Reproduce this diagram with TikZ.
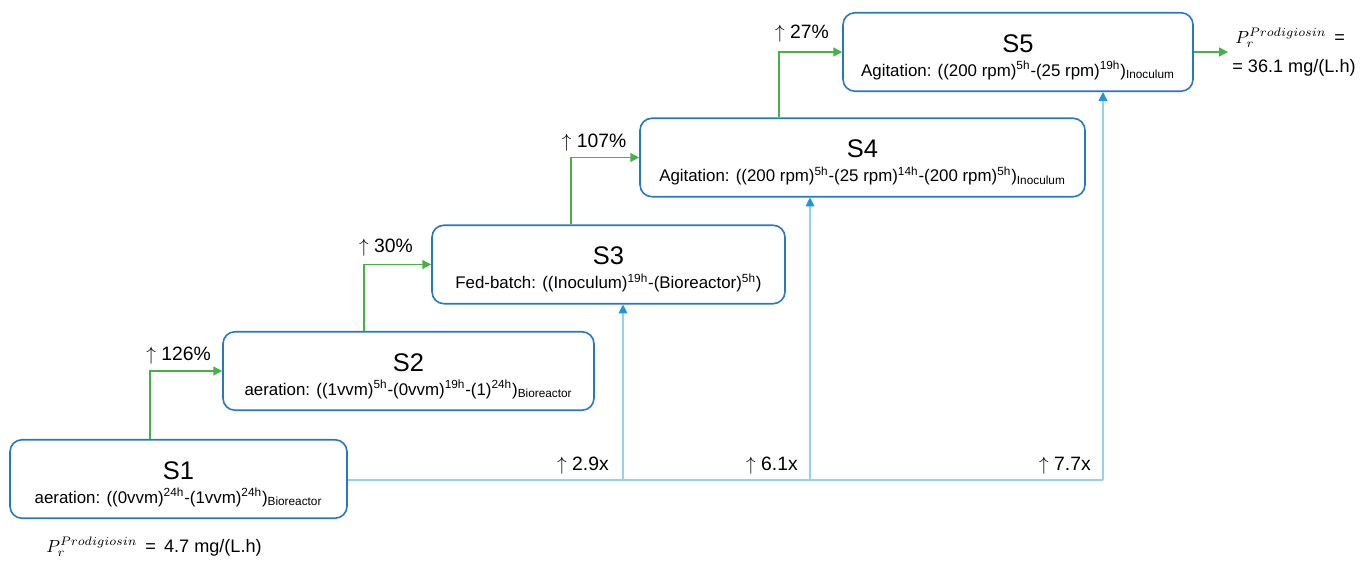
\documentclass[tikz,border=0pt]{standalone}
\usepackage{fontspec}
\setmainfont{Liberation Sans}
\usepackage{amsmath}
\usetikzlibrary{arrows.meta}

\definecolor{boxblue}{RGB}{40,118,200}
\definecolor{stepgreen}{RGB}{70,178,70}
\definecolor{lineblue}{RGB}{150,210,238}
\definecolor{tipblue}{RGB}{30,150,220}

\tikzset{
    stage/.style={draw=boxblue, line width=0.9pt, rounded corners=0.24cm, align=center,
                  minimum height=1.57cm, inner sep=2pt, font=\fontsize{14.5}{17}\selectfont},
    gain/.style={draw=stepgreen, line width=0.8pt, -{Triangle[width=5pt,length=5pt]}},
    yield/.style={draw=lineblue, line width=0.6pt},
    yieldup/.style={yield, -{Triangle[width=5pt,length=5pt,color=tipblue]}},
    lbl/.style={font=\fontsize{11}{13}\selectfont, inner sep=0pt},
    prod/.style={font=\fontsize{10.3}{13}\selectfont, inner sep=0pt}
}
\newcommand{\stagedesc}[1]{{\fontsize{9.6}{12}\selectfont #1}}

\begin{document}
\begin{tikzpicture}
    \useasboundingbox (0,0) rectangle (27.36,11.26);

    % stages
    \node[stage, minimum width=6.74cm] (s1) at (3.57,1.68)
        {\rule{0pt}{16pt}S1\\[-3.5pt]\stagedesc{aeration: ((0vvm)\textsuperscript{24h}-(1vvm)\textsuperscript{24h})\textsubscript{Bioreactor}}};
    \node[stage, minimum width=7.42cm] (s2) at (8.17,3.84)
        {\rule{0pt}{16pt}S2\\[-3.5pt]\stagedesc{aeration: ((1vvm)\textsuperscript{5h}-(0vvm)\textsuperscript{19h}-(1)\textsuperscript{24h})\textsubscript{Bioreactor}}};
    \node[stage, minimum width=7.06cm] (s3) at (12.17,5.97)
        {\rule{0pt}{16pt}S3\\[-3.5pt]\stagedesc{Fed-batch: ((Inoculum)\textsuperscript{19h}-(Bioreactor)\textsuperscript{5h})}};
    \node[stage, minimum width=8.9cm] (s4) at (17.25,8.11)
        {\rule{0pt}{16pt}S4\\[-3.5pt]\stagedesc{Agitation: ((200 rpm)\textsuperscript{5h}-(25 rpm)\textsuperscript{14h}-(200 rpm)\textsuperscript{5h})\textsubscript{Inoculum}}};
    \node[stage, minimum width=7.0cm] (s5) at (20.36,10.22)
        {\rule{0pt}{16pt}S5\\[-3.5pt]\stagedesc{Agitation: ((200 rpm)\textsuperscript{5h}-(25 rpm)\textsuperscript{19h})\textsubscript{Inoculum}}};

    % step-to-step gains
    \draw[gain] ([xshift=-0.57cm]s1.north) |- (s2.west);
    \draw[gain] ([xshift=-0.89cm]s2.north) |- (s3.west);
    \draw[gain] ([xshift=-0.75cm]s3.north) |- (s4.west);
    \draw[gain] ([xshift=-1.67cm]s4.north) |- (s5.west);
    \coordinate (out) at (24.56,10.22);
    \draw[gain] (s5.east) -- (out);

    \node[lbl] (g12) at (3.57,4.14) {$\uparrow$ 126\%};
    \node[lbl] (g23) at (7.72,6.30) {$\uparrow$ 30\%};
    \node[lbl] (g34) at (11.88,8.40) {$\uparrow$ 107\%};
    \node[lbl] (g45) at (16.04,10.58) {$\uparrow$ 27\%};

    % overall improvement against S1
    \coordinate (b3) at (12.46,1.66);
    \coordinate (b4) at (16.20,1.66);
    \coordinate (b5) at (22.06,1.66);
    \draw[yield] (s1.east |- b3) -- (b5);
    \draw[yieldup] (b3) -- (b3 |- s3.south);
    \draw[yieldup] (b4) -- (b4 |- s4.south);
    \draw[yieldup] (b5) -- (b5 |- s5.south);

    \node[lbl] (f3) at (11.66,1.94) {$\uparrow$ 2.9x};
    \node[lbl] (f4) at (15.44,1.94) {$\uparrow$ 6.1x};
    \node[lbl] (f5) at (21.30,1.94) {$\uparrow$ 7.7x};

    % productivities
    \node[prod, anchor=west] (p1) at (0.92,0.32) {$P_r^{Prodigiosin}$\, =\, 4.7 mg/(L.h)};
    \node[prod, anchor=west] (p5a) at (24.70,10.5) {$P_r^{Prodigiosin}$\, =};
    \node[prod, anchor=west] (p5b) at (24.64,9.9) {= 36.1 mg/(L.h)};
\end{tikzpicture}
\end{document}
